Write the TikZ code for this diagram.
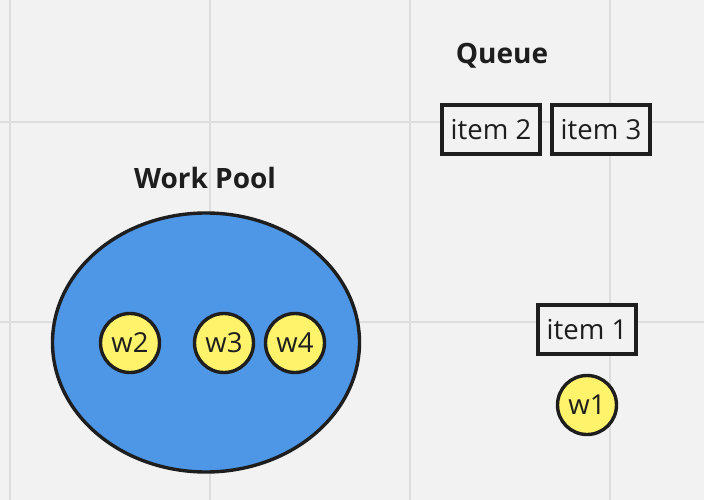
\documentclass[tikz,border=0pt]{standalone}
\usepackage{fontspec}
\setmainfont{Open Sans}
\usetikzlibrary{shapes.geometric}
\definecolor{bg}{HTML}{F2F2F2}
\definecolor{gridc}{HTML}{DDDDDD}
\definecolor{ink}{HTML}{1E1E1E}
\definecolor{pool}{HTML}{4E96E6}
\definecolor{worker}{HTML}{FFF36B}
\tikzset{
  worker/.style={circle, draw=ink, line width=3.4pt, fill=worker, minimum size=59pt, inner sep=0pt, text=ink, font=\fontsize{27.5}{32}\selectfont},
  itembox/.style={rectangle, draw=ink, line width=3.8pt, fill=bg, minimum width=98pt, minimum height=49pt, inner sep=0pt, text=ink, font=\fontsize{27.5}{32}\selectfont},
  title/.style={text=ink, font=\bfseries\fontsize{28}{33}\selectfont},
}
\begin{document}
\begin{tikzpicture}[x=1pt,y=-1pt]
\fill[bg] (0,0) rectangle (704,500);
\useasboundingbox (0,0) rectangle (704,500);
\foreach \gx in {10,210,410,610} \draw[gridc, line width=1.5pt] (\gx,0) -- (\gx,500);
\foreach \gy in {122,322} \draw[gridc, line width=1.5pt] (0,\gy) -- (704,\gy);
\node[ellipse, draw=ink, line width=3.4pt, fill=pool, minimum width=307pt, minimum height=259pt, inner sep=0pt] (pool) at (206,342.5) {};
\node[title] (pooltitle) at (205,178) {Work Pool};
\node[title] (queuetitle) at (502,56) {Queue};
\node[worker] (w2) at (130,343) {w2};
\node[worker] (w3) at (224,343) {w3};
\node[worker] (w4) at (295,343) {w4};
\node[worker] (w1) at (587,405) {w1};
\node[itembox] (i2) at (491,129.5) {item 2};
\node[itembox] (i3) at (601,129.5) {item 3};
\node[itembox] (i1) at (587,329.5) {item 1};
\end{tikzpicture}
\end{document}
